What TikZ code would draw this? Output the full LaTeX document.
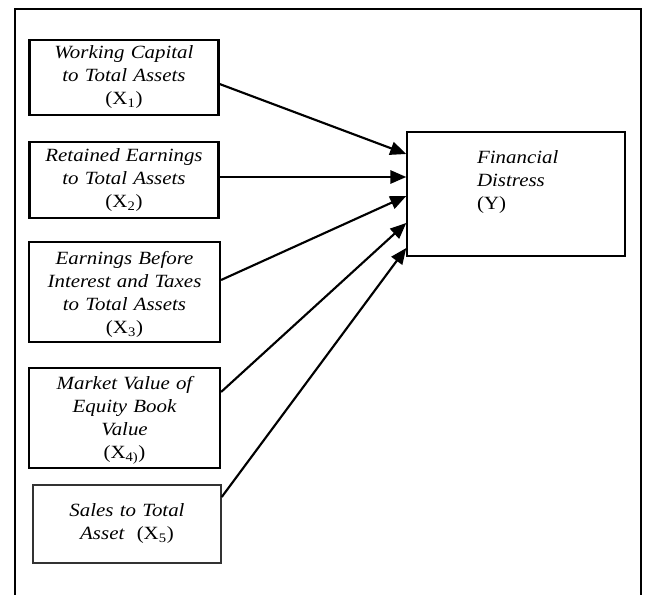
\documentclass[tikz,border=0pt]{standalone}
\usepackage{fontspec}
\setmainfont[FakeStretch=1.12]{Liberation Serif}
\usetikzlibrary{arrows.meta}

\tikzset{
  lift/.style={execute at end node={\par\vspace*{#1}}},
  varbox/.style={draw, line width=1.6pt, align=center, text width=138pt, inner sep=0pt,
    minimum width=#1, font=\fontsize{14}{17.25}\selectfont\itshape, lift=0pt},
  thinbox/.style={draw, line width=1.1pt, inner sep=0pt},
}

\begin{document}
\begin{tikzpicture}[x=0.75pt,y=-0.75pt,>={Triangle[length=12pt,width=10pt]},line width=1.6pt]
  \useasboundingbox (0,0) rectangle (645,595);
  % frame, open at the bottom
  \draw[line width=1.8pt] (15,595) -- (15,9) -- (641,9) -- (641,595);

  \node[varbox=141.75pt, minimum height=56.25pt] (x1) at (124,77.5)
    {Working Capital\\to Total Assets\\\textup{(X\textsubscript{1})}};
  \node[varbox=141.75pt, minimum height=57pt]    (x2) at (124,180)
    {Retained Earnings\\to Total Assets\\\textup{(X\textsubscript{2})}};
  \node[varbox=143.25pt, minimum height=75pt, lift=-4pt]   (x3) at (124.5,292)
    {Earnings Before\\Interest and Taxes\\to Total Assets\\\textup{(X\textsubscript{3})}};
  \node[varbox=143.25pt, minimum height=75pt, lift=-4pt]   (x4) at (124.5,418)
    {Market Value of\\Equity Book\\Value\\\textup{(X\textsubscript{4)})}};
  \node[varbox=141pt, minimum height=58.5pt, draw=black!80, line width=1.1pt, lift=1pt]
    (x5) at (127,524)
    {Sales to Total\\Asset\ \ \textup{(X\textsubscript{5})}};

  \node[thinbox, minimum width=163.5pt, minimum height=93pt] (y) at (516,194) {};
  \node[anchor=north west, align=left, inner sep=0pt,
        font=\fontsize{14}{17.25}\selectfont] (ylbl) at (476,149)
    {\textit{Financial}\\\textit{Distress}\\(Y)};

  \foreach \src/\sy/\ey in {x1/84/154, x2/177/177, x3/280/196, x4/392/223, x5/497/248}
    \draw[->] (\src.east |- 0,\sy) -- (y.west |- 0,\ey);
\end{tikzpicture}
\end{document}
